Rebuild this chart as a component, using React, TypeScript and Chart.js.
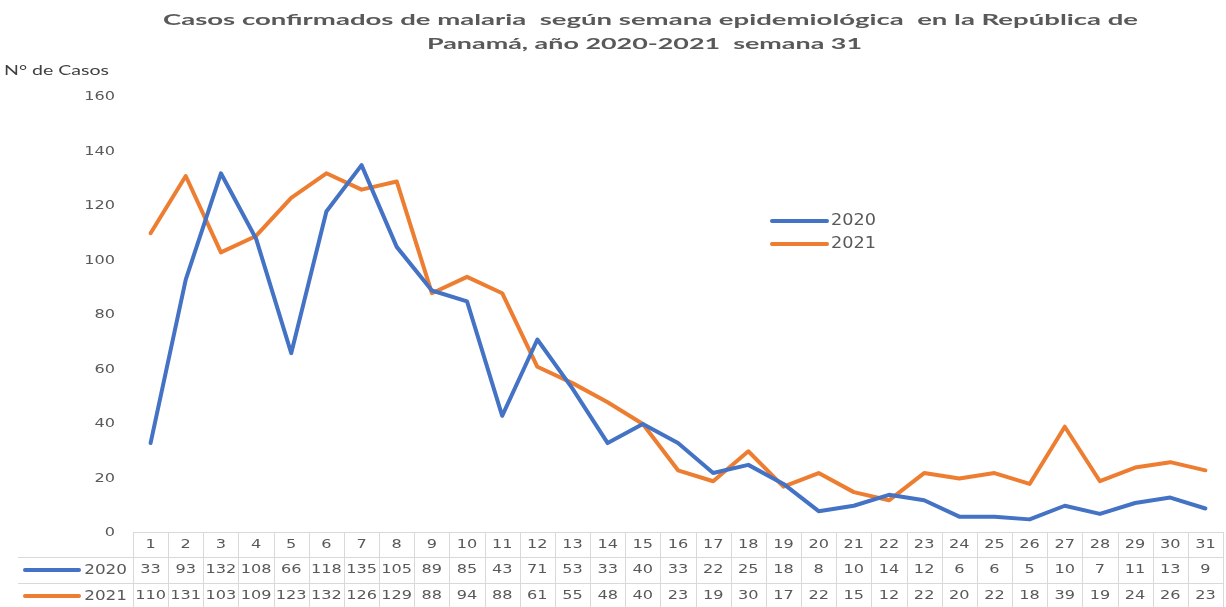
import React, { useEffect, useRef } from "react";
import { Chart, registerables } from "chart.js";

Chart.register(...registerables);

const weeks = [
  "1", "2", "3", "4", "5", "6", "7", "8", "9", "10", "11", "12", "13", "14", "15", "16",
  "17", "18", "19", "20", "21", "22", "23", "24", "25", "26", "27", "28", "29", "30", "31",
];
const cases2020 = [33, 93, 132, 108, 66, 118, 135, 105, 89, 85, 43, 71, 53, 33, 40, 33, 22, 25, 18, 8, 10, 14, 12, 6, 6, 5, 10, 7, 11, 13, 9];
const cases2021 = [110, 131, 103, 109, 123, 132, 126, 129, 88, 94, 88, 61, 55, 48, 40, 23, 19, 30, 17, 22, 15, 12, 22, 20, 22, 18, 39, 19, 24, 26, 23];
const seriesNames = ["2020", "2021"];
const seriesColors = ["#4472C4", "#ED7D31"];
const yTicks = [0, 20, 40, 60, 80, 100, 120, 140, 160];
const titleLines = [
  "Casos confirmados de malaria  según semana epidemiológica  en la República de",
  "Panamá, año 2020-2021  semana 31",
];
const yAxisTitle = "N° de Casos";

const GRAY = "#595959";
const NUM_FONT = '13px "DejaVu Sans"';
const NUM_SX = 1.24;

function drawText(
  ctx: CanvasRenderingContext2D,
  text: string,
  x: number,
  y: number,
  font: string,
  color: string,
  align: "left" | "center" | "right",
  sx: number
) {
  ctx.save();
  ctx.font = font;
  ctx.fillStyle = color;
  ctx.textBaseline = "middle";
  ctx.textAlign = "left";
  const w = ctx.measureText(text).width * sx;
  const left = align === "center" ? x - w / 2 : align === "right" ? x - w : x;
  ctx.translate(left, y);
  ctx.scale(sx, 1);
  ctx.fillText(text, 0, 0);
  ctx.restore();
}

function drawFit(
  ctx: CanvasRenderingContext2D,
  text: string,
  left: number,
  y: number,
  font: string,
  color: string,
  width: number
) {
  ctx.save();
  ctx.font = font;
  const m = ctx.measureText(text).width;
  ctx.restore();
  drawText(ctx, text, left, y, font, color, "left", width / m);
}

const decorPlugin = {
  id: "decor",
  afterDraw(chart: any) {
    const ctx: CanvasRenderingContext2D = chart.ctx;
    const x = chart.scales.x;
    const y = chart.scales.y;
    const area = chart.chartArea;

    // Title
    drawFit(ctx, titleLines[0], 163, 20, 'bold 16px Lato', GRAY, 975);
    drawFit(ctx, titleLines[1], 427, 44, 'bold 16px Lato', GRAY, 435);

    // Y axis title
    drawFit(ctx, yAxisTitle, 4, 70, '14px Lato', "#404040", 105);

    // Y tick labels
    yTicks.forEach((v) => {
      drawText(ctx, String(v), 115, y.getPixelForValue(v), NUM_FONT, GRAY, "right", NUM_SX);
    });

    // Legend
    const legX = 772;
    const legYs = [221, 244];
    seriesNames.forEach((name, i) => {
      ctx.save();
      ctx.strokeStyle = seriesColors[i];
      ctx.lineWidth = 4;
      ctx.lineCap = "round";
      ctx.beginPath();
      ctx.moveTo(legX, legYs[i]);
      ctx.lineTo(legX + 55, legYs[i]);
      ctx.stroke();
      ctx.restore();
      drawText(ctx, name, 831, legYs[i], '15px "DejaVu Sans"', GRAY, "left", 1.18);
    });

    // Data table
    const n = weeks.length;
    const cw = (area.right - area.left) / n;
    const rowTop = [532, 557, 583, 608];
    ctx.save();
    ctx.strokeStyle = "#d9d9d9";
    ctx.lineWidth = 1;
    ctx.beginPath();
    ctx.moveTo(area.left, rowTop[0] + 0.5);
    ctx.lineTo(area.right, rowTop[0] + 0.5);
    for (let r = 1; r < 4; r++) {
      ctx.moveTo(18, rowTop[r] + 0.5);
      ctx.lineTo(area.right, rowTop[r] + 0.5);
    }
    for (let k = 0; k <= n; k++) {
      const px = Math.round(area.left + k * cw) + 0.5;
      ctx.moveTo(px, rowTop[0]);
      ctx.lineTo(px, 607);
    }
    ctx.stroke();
    ctx.restore();

    const rowsVals = [cases2020, cases2021];
    weeks.forEach((wk, i) => {
      const cx = x.getPixelForValue(i);
      drawText(ctx, wk, cx, 545, NUM_FONT, GRAY, "center", NUM_SX);
      rowsVals.forEach((vals, r) => {
        drawText(ctx, String(vals[i]), cx, 570 + r * 26, NUM_FONT, GRAY, "center", NUM_SX);
      });
    });

    // Row labels with legend keys
    seriesNames.forEach((name, r) => {
      const cy = 570 + r * 26;
      ctx.save();
      ctx.strokeStyle = seriesColors[r];
      ctx.lineWidth = 4;
      ctx.lineCap = "round";
      ctx.beginPath();
      ctx.moveTo(25, cy);
      ctx.lineTo(79, cy);
      ctx.stroke();
      ctx.restore();
      drawText(ctx, name, 127, cy, '14px "DejaVu Sans"', GRAY, "right", 1.2);
    });
  },
};

export default function App() {
  const canvasRef = useRef<HTMLCanvasElement | null>(null);

  useEffect(() => {
    const canvas = canvasRef.current;
    if (!canvas) return;
    const chart = new Chart(canvas, {
      type: "line",
      data: {
        labels: weeks,
        datasets: [
          {
            label: seriesNames[0],
            data: cases2020,
            borderColor: seriesColors[0],
            backgroundColor: seriesColors[0],
            borderWidth: 4,
            pointRadius: 0,
            tension: 0,
            borderJoinStyle: "round",
            borderCapStyle: "round",
          },
          {
            label: seriesNames[1],
            data: cases2021,
            borderColor: seriesColors[1],
            backgroundColor: seriesColors[1],
            borderWidth: 4,
            pointRadius: 0,
            tension: 0,
            borderJoinStyle: "round",
            borderCapStyle: "round",
          },
        ],
      },
      options: {
        animation: false,
        responsive: false,
        maintainAspectRatio: false,
        devicePixelRatio: 1,
        layout: { padding: { left: 133, right: 3, top: 97, bottom: 74 } },
        plugins: {
          legend: { display: false },
          title: { display: false },
          tooltip: { enabled: false },
        },
        scales: {
          x: { type: "category", display: false, offset: true },
          y: { display: false, min: 0, max: 160 },
        },
      },
      plugins: [decorPlugin],
    });
    return () => chart.destroy();
  }, []);

  return (
    <div style={{ position: "fixed", left: 0, top: 0, width: 1226, height: 607, background: "#fff" }}>
      <canvas ref={canvasRef} width={1226} height={607} style={{ display: "block" }} />
    </div>
  );
}
